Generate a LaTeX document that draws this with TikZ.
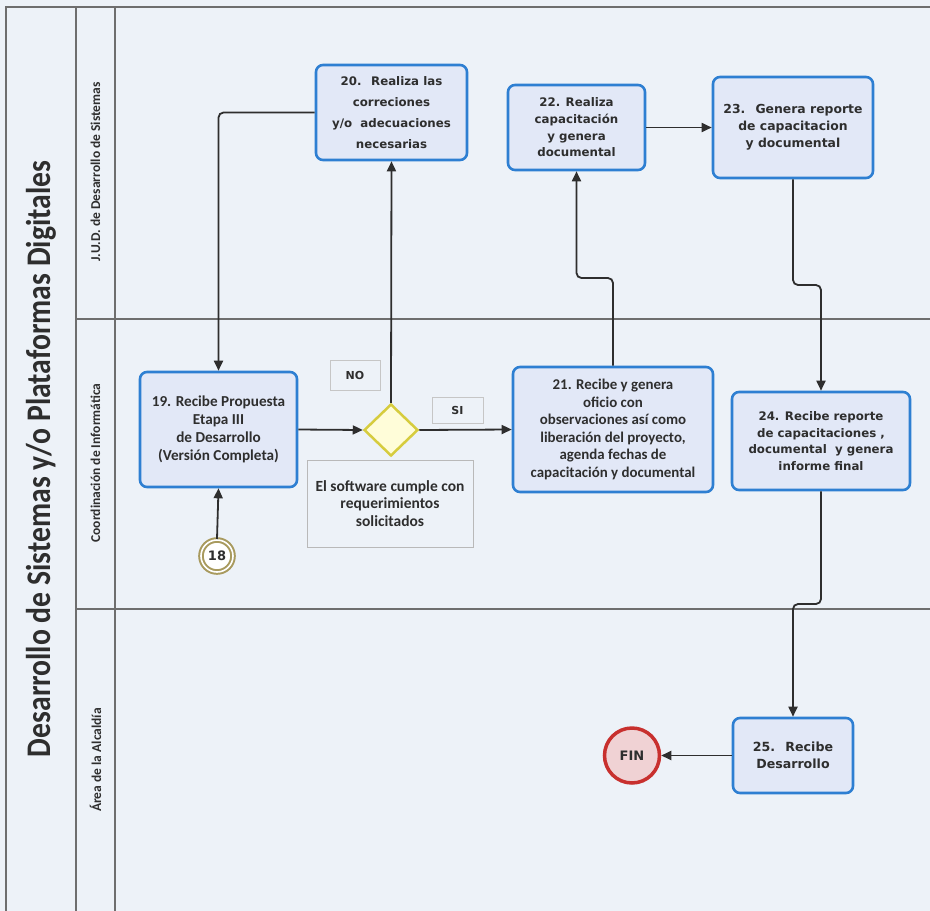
\documentclass[tikz,border=0pt]{standalone}
\usepackage{fontspec}
\setmainfont{DejaVu Sans}
\newfontfamily\calfont{Carlito}
\newfontfamily\titlefont[FakeStretch=0.86]{Carlito}
\usetikzlibrary{arrows.meta,shapes.geometric}
\definecolor{bg}{HTML}{EDF2F8}
\definecolor{boxfill}{HTML}{E2E8F7}
\definecolor{boxline}{HTML}{2E7FD2}
\definecolor{ink}{HTML}{2E2E2E}
\definecolor{lane}{HTML}{6E6E6E}
\definecolor{dia}{HTML}{D6CC3E}
\definecolor{olive}{HTML}{A89A5E}
\definecolor{finred}{HTML}{C8302E}
\definecolor{finfill}{HTML}{F0D2D4}
\tikzset{
  task/.style={draw=boxline, line width=2.6pt, fill=boxfill, rounded corners=7pt,
    align=center, inner sep=0pt, text=ink, font=\bfseries\fontsize{11.8}{16.7}\selectfont},
  ctask/.style={task, font=\calfont\bfseries\fontsize{15.2}{17.8}\selectfont},
  flow/.style={draw=ink, line width=1.8pt, rounded corners=5pt,
    -{Triangle[length=10pt,width=9pt]}},
  lanel/.style={draw=lane, line width=1.3pt},
  lanetxt/.style={rotate=90, text=ink, font=\calfont\bfseries\fontsize{13.5}{15}\selectfont},
  lbl/.style={draw=gray!45, line width=0.8pt, fill=bg, text=ink,
    font=\bfseries\fontsize{11}{13}\selectfont, inner sep=0pt},
  note/.style={draw=gray!55, line width=0.8pt, fill=bg, text=ink, align=center,
    inner sep=0pt, font=\calfont\bfseries\fontsize{15.5}{17.8}\selectfont}
}
\begin{document}
\begin{tikzpicture}[x=1pt,y=-1pt]
\useasboundingbox (0,0) rectangle (930,911);
\fill[bg] (0,0) rectangle (930,911);
% frame and lanes
\draw[lanel] (6,911) -- (6,7) -- (930,7);
\draw[lanel] (76,7) -- (76,911);
\draw[lanel] (115,7) -- (115,911);
\draw[lanel] (76,319) -- (930,319);
\draw[lanel] (76,609) -- (930,609);
\node[rotate=90, text=ink, font=\titlefont\bfseries\fontsize{34.5}{36}\selectfont] (title) at (41,459) {Desarrollo de Sistemas y/o Plataformas Digitales};
\node[lanetxt] (l1) at (95.5,172) {J.U.D. de Desarrollo de Sistemas};
\node[lanetxt] (l2) at (95.5,463) {Coordinación de Informática};
\node[lanetxt] (l3) at (95.5,760) {Área de la Alcaldía};
% tasks
\node[task, minimum width=151, minimum height=95, font=\bfseries\fontsize{11.8}{21}\selectfont] (b20) at (391.5,112.5) {20.~ Realiza las\\correciones\\y/o~ adecuaciones\\necesarias};
\node[task, minimum width=137, minimum height=85] (b22) at (576.5,127.5) {22. Realiza\\capacitación\\y genera\\documental};
\node[task, minimum width=160, minimum height=101, font=\bfseries\fontsize{12.4}{17}\selectfont] (b23) at (793,127.5) {23.~ Genera reporte\\de capacitacion\\y documental};
\node[ctask, minimum width=157, minimum height=115] (b19) at (218.5,429.5) {19. Recibe Propuesta\\Etapa III\\de Desarrollo\\(Versión Completa)};
\node[ctask, minimum width=200, minimum height=125, font=\calfont\bfseries\fontsize{14.9}{17.6}\selectfont] (b21) at (613,429.5) {21. Recibe y genera\\oficio con\\observaciones así como\\liberación del proyecto,\\agenda fechas de\\capacitación y documental};
\node[task, minimum width=178, minimum height=98] (b24) at (821,441) {24. Recibe reporte\\de capacitaciones ,\\documental~ y genera\\informe final};
\node[task, minimum width=120, minimum height=75, font=\bfseries\fontsize{12.6}{17}\selectfont] (b25) at (793,755.5) {25.~ Recibe\\Desarrollo};
% gateway
\node[diamond, draw=dia, line width=2.5pt, fill=white!85!yellow, minimum width=54, minimum height=52, inner sep=0pt] (dia) at (391,430) {};
\node[lbl, minimum width=50, minimum height=30] (no) at (355,375) {NO};
\node[lbl, minimum width=51, minimum height=26] (si) at (457.5,410) {SI};
\node[note, minimum width=166, minimum height=87] (nt) at (390,503.5) {El software cumple con\\requerimientos\\solicitados};
% events
\node[circle, draw=olive, line width=2pt, double=white, double distance=1.6pt, fill=white, minimum size=32, inner sep=0pt, text=ink, font=\bfseries\fontsize{13}{15}\selectfont] (c18) at (217,556) {18};
\node[circle, draw=finred, line width=3.5pt, fill=finfill, minimum size=55, inner sep=0pt, text=ink, font=\bfseries\fontsize{13}{15}\selectfont] (fin) at (632,755.5) {FIN};
% connectors
\draw[flow] (c18.north) -- (b19.south);
\draw[flow] (b19.east) -- (dia.west);
\draw[flow] (dia.east) -- (b21.west);
\draw[flow] (dia.north) -- (b20.south);
\draw[flow] (b20.west) -| (b19.north);
\draw[flow] (b21.north) -- (b21.north |- 0,278) -| (b22.south);
\draw[flow] (b22.east) -- (b23.west);
\draw[flow] (b23.south) -- (b23.south |- 0,285) -| (b24.north);
\draw[flow] (b24.south) -- (b24.south |- 0,604) -| (b25.north);
\draw[flow] (b25.west) -- (fin.east);
\end{tikzpicture}
\end{document}
